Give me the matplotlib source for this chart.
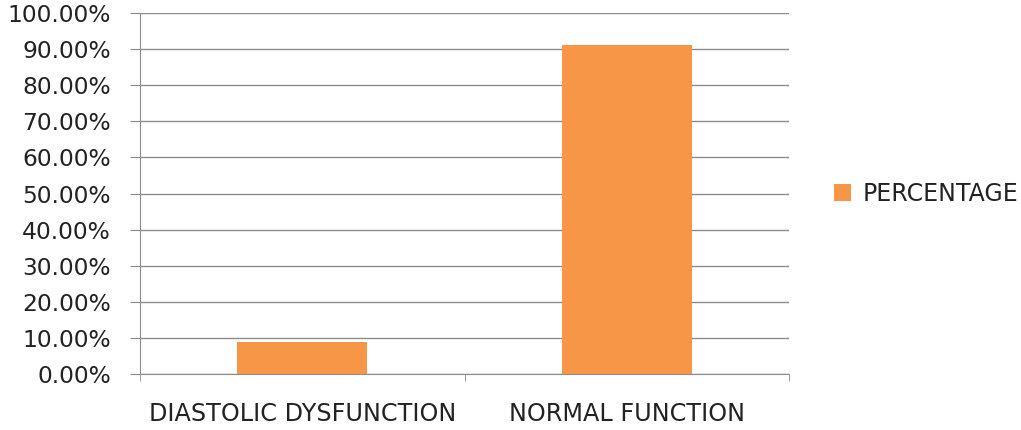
import numpy as np
import matplotlib.pyplot as plt
from matplotlib.ticker import PercentFormatter, FixedLocator

categories = ['DIASTOLIC DYSFUNCTION', 'NORMAL FUNCTION']
percentage = [8.9, 91.1]
yticks = np.arange(0, 101, 10)

fig = plt.figure(figsize=(10.21, 4.3), dpi=100)
ax = fig.add_axes([0.1371, 0.1302, 0.636, 0.8395])

x = np.arange(len(categories))
ax.bar(x, percentage, width=0.4, color='#F79646', label='PERCENTAGE', zorder=3)

ax.set_xlim(-0.5, 1.5)
ax.set_ylim(0, 100)
ax.set_yticks(yticks)
ax.yaxis.set_major_formatter(PercentFormatter(decimals=2))
ax.grid(axis='y', color='#8c8c8c', linewidth=1.0, zorder=0)

# category labels centred, tick marks on the boundaries
ax.set_xticks(x)
ax.set_xticklabels(categories)
ax.xaxis.set_minor_locator(FixedLocator([-0.5, 0.5, 1.5]))
ax.tick_params(axis='x', which='major', length=0, pad=20, labelsize=17.2, colors='#222222')
ax.tick_params(axis='x', which='minor', length=5, color='#8c8c8c')
ax.tick_params(axis='y', length=7, color='#8c8c8c', pad=14, labelsize=16.8, labelcolor='#222222')

for s in ['top', 'right']:
    ax.spines[s].set_visible(False)
for s in ['left', 'bottom']:
    ax.spines[s].set_color('#8c8c8c')

ax.legend(loc='center left', bbox_to_anchor=(1.055, 0.5), frameon=False,
          fontsize=17, handlelength=0.7, handleheight=0.7, handletextpad=0.5,
          labelcolor='#222222', borderaxespad=0)

fig.savefig('out.png', dpi=100)
